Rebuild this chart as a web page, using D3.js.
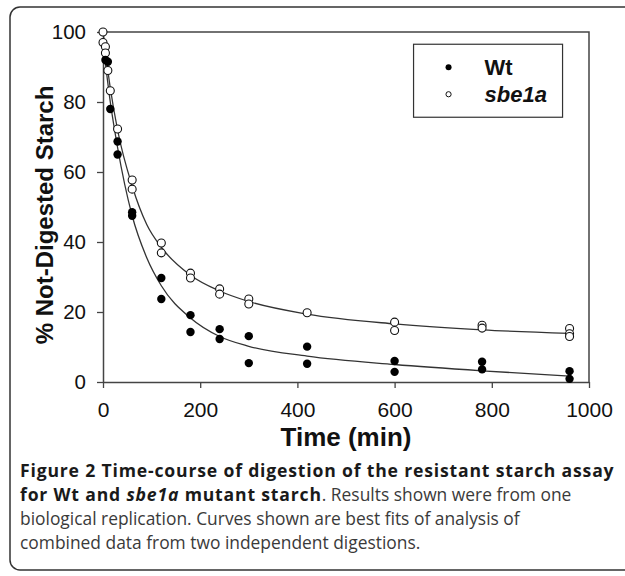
<!DOCTYPE html>
<html>
<head>
<meta charset="utf-8">
<script src="https://cdn.jsdelivr.net/npm/d3@7"></script>
<style>
  body { margin: 0; background: #fff; }
  svg text { font-family: "Liberation Sans", Arial, sans-serif; }
  .cap { font-family: "Open Sans", sans-serif; }
</style>
</head>
<body>
<div id="chart"></div>
<script>
// measured points (time in min, % not digested)
const wtTime = [5, 10, 15, 30, 30, 60, 60, 120, 120, 180, 180, 240, 240, 300, 300, 420, 420, 600, 600, 780, 780, 960, 960];
const wtVal  = [92, 91.5, 78, 68.7, 65, 48.5, 47.5, 29.7, 23.7, 19.1, 14.3, 15.1, 12.3, 13.1, 5.4, 10.1, 5.2, 6.0, 2.9, 5.8, 3.6, 3.1, 0.9];

const sbeTime = [0, 0, 5, 5, 10, 15, 30, 60, 60, 120, 120, 180, 180, 240, 240, 300, 300, 420, 600, 600, 780, 780, 960, 960, 960];
const sbeVal  = [100, 97, 95.8, 94, 89, 83.2, 72.3, 57.7, 55.1, 39.7, 36.9, 31.1, 29.7, 26.6, 25.1, 23.7, 22.3, 19.8, 17.1, 14.7, 16.2, 15.4, 15.3, 13.8, 13.0];

// fitted curves
const fitTime = [0, 15, 30, 60, 90, 120, 180, 240, 300, 420, 600, 780, 960];
const wtFit   = [97, 80, 67, 47.5, 35.5, 27.5, 18.3, 13, 10.2, 7.4, 5.0, 3.2, 1.7];
const sbeFit  = [100, 84, 72, 56, 45, 38.5, 30.5, 26, 23, 19.4, 16.6, 14.9, 13.9];

const xTicks = [0, 200, 400, 600, 800, 1000];
const yTicks = [0, 20, 40, 60, 80, 100];

const W = 625, H = 576;
const margin = { top: 32, right: 36, bottom: 194, left: 103 },
      width = W - margin.left - margin.right,
      height = H - margin.top - margin.bottom;

const svg = d3.select("#chart").append("svg")
    .attr("width", W).attr("height", H);

// outer frame (cut off on the right)
svg.append("rect")
   .attr("x", 10).attr("y", 7)
   .attr("width", 660).attr("height", 563)
   .attr("rx", 10)
   .attr("fill", "none").attr("stroke", "#333").attr("stroke-width", 1.5);

const g = svg.append("g").attr("transform", `translate(${margin.left},${margin.top})`);

const x = d3.scaleLinear().domain([0, 1000]).range([0, width]);
const y = d3.scaleLinear().domain([0, 100]).range([height, 0]);

// plot box top & right
g.append("path")
 .attr("d", `M0,0H${width}V${height}`)
 .attr("fill", "none").attr("stroke", "#444").attr("stroke-width", 1.5);

const xAxis = g.append("g").attr("transform", `translate(0,${height})`)
  .call(d3.axisBottom(x).tickValues(xTicks).tickFormat(d3.format("d"))
        .tickSize(6).tickSizeOuter(0).tickPadding(14));
const yAxis = g.append("g")
  .call(d3.axisLeft(y).tickValues(yTicks).tickSize(6).tickSizeOuter(0).tickPadding(11));

[xAxis, yAxis].forEach(a => {
  a.attr("font-family", "'Liberation Sans', Arial, sans-serif");
  a.select(".domain").attr("stroke", "#444").attr("stroke-width", 1.5);
  a.selectAll(".tick line").attr("stroke", "#444").attr("stroke-width", 1.3);
  a.selectAll(".tick text").attr("fill", "#111");
});
xAxis.selectAll(".tick text").attr("font-size", 21);
yAxis.selectAll(".tick text").attr("font-size", 20.5);

// curves
const line = d3.line().curve(d3.curveMonotoneX);
[wtFit, sbeFit].forEach(vals => {
  g.append("path")
   .datum(fitTime.map((t, i) => [x(t), y(vals[i])]))
   .attr("d", line)
   .attr("fill", "none").attr("stroke", "#333").attr("stroke-width", 1.3);
});

// points
g.selectAll(".sbe").data(sbeTime.map((t, i) => [t, sbeVal[i]]))
 .join("circle").attr("class", "sbe")
 .attr("cx", d => x(d[0])).attr("cy", d => y(d[1])).attr("r", 4)
 .attr("fill", "#fff").attr("stroke", "#111").attr("stroke-width", 1.1);

g.selectAll(".wt").data(wtTime.map((t, i) => [t, wtVal[i]]))
 .join("circle").attr("class", "wt")
 .attr("cx", d => x(d[0])).attr("cy", d => y(d[1])).attr("r", 4.2)
 .attr("fill", "#000");

// legend
const leg = g.append("g").attr("transform", `translate(${x(639)},${y(96.5)})`);
leg.append("rect").attr("width", 149).attr("height", 73)
   .attr("fill", "#fff").attr("stroke", "#333").attr("stroke-width", 1.2);
leg.append("circle").attr("cx", 35).attr("cy", 23).attr("r", 3).attr("fill", "#000");
leg.append("circle").attr("cx", 35).attr("cy", 50).attr("r", 2.6)
   .attr("fill", "#fff").attr("stroke", "#111").attr("stroke-width", 1);
leg.append("text").attr("x", 71).attr("y", 31).attr("font-size", 22)
   .attr("font-weight", "bold").attr("fill", "#111").text("Wt");
leg.append("text").attr("x", 71).attr("y", 58).attr("font-size", 22)
   .attr("font-weight", "bold").attr("font-style", "italic").attr("fill", "#111").text("sbe1a");

// axis titles
svg.append("text")
   .attr("transform", `translate(53,215) rotate(-90)`)
   .attr("text-anchor", "middle").attr("font-size", 24).attr("font-weight", "bold")
   .attr("fill", "#111").text("% Not-Digested Starch");
svg.append("text")
   .attr("x", margin.left + width / 2).attr("y", 446)
   .attr("text-anchor", "middle").attr("font-size", 26).attr("font-weight", "bold")
   .attr("fill", "#111").text("Time (min)");

// caption
const cap = svg.append("text").attr("class", "cap").attr("font-size", 17.4).attr("fill", "#3a3a3a");
const bold = t => t.attr("font-weight", "bold").attr("font-size", 17.6)
                   .attr("letter-spacing", 0.82).attr("fill", "#1a1a1a");
const l1 = cap.append("tspan").attr("x", 20).attr("y", 477);
bold(l1.append("tspan")).text("Figure 2 Time-course of digestion of the resistant starch assay");
const l2 = cap.append("tspan").attr("x", 20).attr("y", 501);
bold(l2.append("tspan")).text("for Wt and ");
bold(l2.append("tspan")).attr("font-style", "italic").text("sbe1a");
bold(l2.append("tspan")).text(" mutant starch");
l2.append("tspan").text(". Results shown were from one");
cap.append("tspan").attr("x", 20).attr("y", 525)
   .text("biological replication. Curves shown are best fits of analysis of");
cap.append("tspan").attr("x", 20).attr("y", 549)
   .text("combined data from two independent digestions.");
</script>
</body>
</html>
